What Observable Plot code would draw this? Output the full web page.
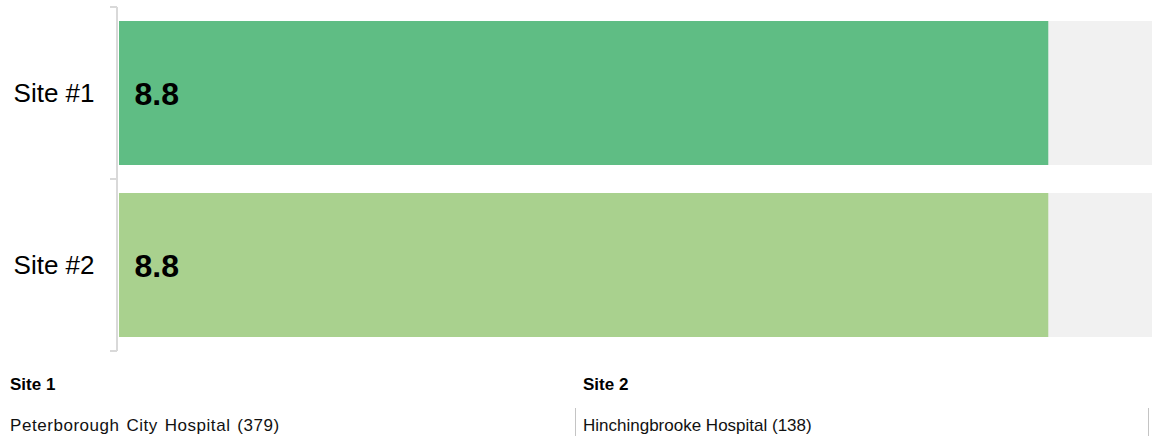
<!DOCTYPE html>
<html><head><meta charset="utf-8">
<script src="https://cdn.jsdelivr.net/npm/d3@7"></script>
<script src="https://cdn.jsdelivr.net/npm/@observablehq/plot@0.6"></script>
<style>
html,body{margin:0;padding:0;background:#fff;overflow:hidden;width:1152px;height:436px;font-family:"Liberation Sans",Arial,sans-serif;}
#chart svg{display:block;overflow:hidden;}
#legend{position:relative;height:76px;width:1152px;}
.col{position:absolute;top:0;height:76px;box-sizing:border-box;}
.ttl{position:absolute;top:15px;font-weight:bold;font-size:17px;line-height:20px;color:#000;white-space:nowrap;}
.row{position:absolute;top:48px;height:40px;box-sizing:border-box;border-right:1px solid #c4c4c4;font-size:17px;line-height:20px;padding-top:8px;color:#111;white-space:nowrap;}
</style></head>
<body><div id="chart"></div><div id="legend"></div>
<script>
// ---- data ----
const sites = ["Site #1", "Site #2"];
const scores = [8.8, 8.8];
const maxScore = 10;
const siteColors = ["#5fbd84", "#a9d18e"];
const legendTitles = ["Site 1", "Site 2"];
const hospitals = ["Peterborough City Hospital (379)", "Hinchingbrooke Hospital (138)"];

const data = sites.map((s, i) => ({site: s, value: scores[i], max: maxScore}));

const plot = Plot.plot({
  width: 1152,
  height: 360,
  marginLeft: 119,
  marginRight: -23,
  marginTop: 7,
  marginBottom: 8,
  style: {fontFamily: '"Liberation Sans", Arial, sans-serif', background: "#fff"},
  x: {domain: [0, maxScore], axis: null},
  y: {domain: sites, paddingInner: 0.16, paddingOuter: 0.08, label: null},
  color: {domain: sites, range: siteColors},
  marks: [
    Plot.barX(data, {x1: 0, x2: "max", y: "site", fill: "#f1f1f1"}),
    Plot.barX(data, {x1: 0, x2: "value", y: "site", fill: "site"}),
    Plot.text(data, {x: 0, y: "site", text: d => d.value.toFixed(1), dx: 15, dy: 1, textAnchor: "start",
      fontSize: 32, fontWeight: "bold", fill: "#000"}),
    Plot.axisY({tickSize: 0, tickPadding: 25, fontSize: 26, fill: "#000", label: null})
  ]
});

// bracket-style axis line with ticks at band boundaries
const ys = plot.scale("y");
const svg = d3.select(plot);
const x0 = 118 - 1;
const step = ys.step, bw = ys.bandwidth;
const [r0, r1] = ys.range;
const bounds = [Math.min(r0, r1)].concat(sites.map(s => ys.apply(s) + bw + (step - bw) / 2));
const g = svg.append("g").attr("stroke", "#d9d9d9").attr("stroke-width", 2).attr("fill", "none");
g.append("line").attr("x1", x0).attr("x2", x0).attr("y1", bounds[0]).attr("y2", bounds[bounds.length - 1]);
g.selectAll("line.t").data(bounds).join("line").attr("class", "t")
  .attr("x1", x0 - 7).attr("x2", x0).attr("y1", d => d).attr("y2", d => d);

document.getElementById("chart").appendChild(plot);

// legend / table below
const legend = d3.select("#legend");
legendTitles.forEach((t, i) => {
  const col = legend.append("div").attr("class", "col")
    .style("left", (i * 576) + "px").style("width", (i === 0 ? 576 : 573) + "px");
  const pad = i === 0 ? 10 : 7;
  col.append("div").attr("class", "ttl").style("left", pad + "px").text(t);
  const row = col.append("div").attr("class", "row").style("left", "0px").style("width", "100%")
    .style("padding-left", pad + "px").text(hospitals[i]);
  if (i === 0) row.style("letter-spacing", "0.55px").style("word-spacing", "1.5px");
});
</script>
</body></html>
